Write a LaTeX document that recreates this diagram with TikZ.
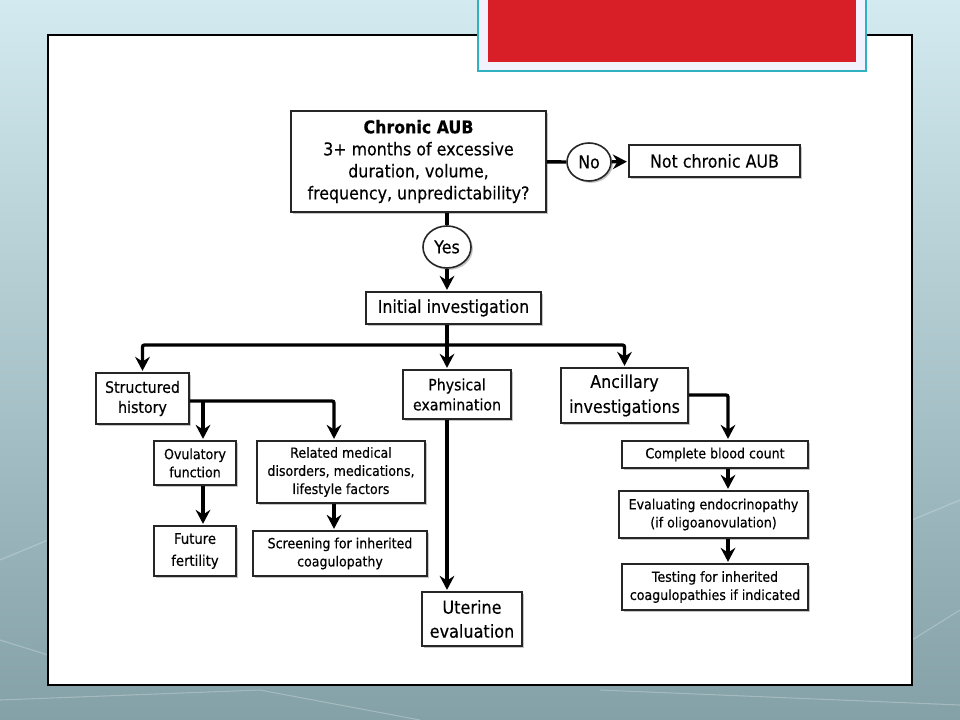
\documentclass[tikz,border=0pt]{standalone}
\usepackage{fontspec}
\setmainfont{DejaVu Sans}[FakeStretch=0.9, FakeBold=0.35]
\usetikzlibrary{arrows.meta,shapes.geometric,shadows,positioning}
\definecolor{slidetop}{HTML}{D2EAF0}
\definecolor{slidebot}{HTML}{84A1A7}
\definecolor{headred}{HTML}{D81F27}
\definecolor{headrim}{HTML}{2FB1C2}
\tikzset{
  box/.style={draw=black!85, line width=1.2pt, fill=white, align=center, inner sep=0pt,
    drop shadow={shadow xshift=1.4pt, shadow yshift=-1.4pt, fill=black!45, opacity=0.5}},
  oval/.style={box, ellipse},
  bigtxt/.style={font=\fontsize{13.2}{16.5}\selectfont},
  midtxt/.style={font=\fontsize{11.8}{15}\selectfont},
  smalltxt/.style={font=\fontsize{10.5}{13.6}\selectfont},
  link/.style={line width=2.5pt},
  flow/.style={link, rounded corners=1.5pt, shorten >=1pt,
    -{Stealth[length=10.5pt, width=11pt, inset=3.5pt]}}
}
\begin{document}
\begin{tikzpicture}[x=0.75pt, y=-0.75pt]
    \useasboundingbox (0,0) rectangle (960,720);
    \shade[top color=slidetop, bottom color=slidebot] (0,0) rectangle (960,720);
    \draw[white, opacity=0.25, line width=0.8pt] (0,700) -- (260,690) -- (420,720)
        (600,690) -- (960,705) (912,520) -- (960,500) (912,640) -- (960,610)
        (0,560) -- (48,540) (0,640) -- (48,655);
    \draw[black, line width=1.4pt, fill=white] (48,35) rectangle (912,685);
    \draw[headrim, line width=2pt, fill=white!95!blue] (478,-4) rectangle (866,71);
    \fill[headred] (488,-4) rectangle (856,62);

    \node[box, bigtxt, minimum width=191.25pt, minimum height=75.75pt] (aub) at (418.5,161.5)
        {\textbf{Chronic AUB}\\3+ months of excessive\\duration, volume,\\frequency, unpredictability?};
    \node[oval, bigtxt, minimum width=33pt, minimum height=28.5pt] (no) at (589,162) {No};
    \node[box, bigtxt, minimum width=128.25pt, minimum height=24pt] (notaub) at (714.5,161) {Not chronic AUB};
    \node[oval, bigtxt, minimum width=36pt, minimum height=31.5pt] (yes) at (447,247) {Yes};
    \node[box, bigtxt, minimum width=131.25pt, minimum height=24pt] (initial) at (453.5,308) {Initial investigation};
    \node[box, midtxt, minimum width=69.75pt, minimum height=38.25pt] (history) at (142.5,398.5) {Structured\\history};
    \node[box, midtxt, minimum width=81pt, minimum height=36.75pt] (physical) at (457,394.5) {Physical\\examination};
    \node[box, bigtxt, font=\fontsize{13.2}{18.7}\selectfont, minimum width=95.25pt, minimum height=41.25pt] (ancillary) at (624.5,395.5) {Ancillary\\investigations};
    \node[box, smalltxt, minimum width=61.5pt, minimum height=33pt] (ovulatory) at (195,463) {Ovulatory\\function};
    \node[box, smalltxt, font=\fontsize{11}{16.5}\selectfont, minimum width=61.5pt, minimum height=37.5pt] (fertility) at (195,551) {Future\\fertility};
    \node[box, smalltxt, minimum width=126pt, minimum height=46.5pt] (related) at (341,472) {Related medical\\disorders, medications,\\lifestyle factors};
    \node[box, smalltxt, minimum width=130.5pt, minimum height=33.75pt] (screening) at (340,553.5) {Screening for inherited\\coagulopathy};
    \node[box, bigtxt, font=\fontsize{13.4}{18}\selectfont, minimum width=75pt, minimum height=40.5pt] (uterine) at (472,619) {Uterine\\evaluation};
    \node[box, smalltxt, minimum width=139.5pt, minimum height=20.25pt] (cbc) at (715,454.5) {Complete blood count};
    \node[box, smalltxt, minimum width=141.75pt, minimum height=35.25pt] (endo) at (713.5,514.5) {Evaluating endocrinopathy\\(if oligoanovulation)};
    \node[box, smalltxt, minimum width=139.5pt, minimum height=34.5pt] (testing) at (715,587) {Testing for inherited\\coagulopathies if indicated};

    \coordinate (split) at (447,345);
    \coordinate (hsplit) at (203,401);
    \coordinate (rel) at (334,401);
    \coordinate (asplit) at (728,395);

    \draw[link] (aub) -- (no);
    \draw[flow] (no) -- (notaub);
    \draw[link] (aub.south -| yes) -- (yes);
    \draw[flow] (yes) -- (yes |- initial.north);
    \draw[link] (initial.south -| split) -- (split);
    \draw[flow] (split) -| (history);
    \draw[flow] (split) -- (physical.north -| split);
    \draw[flow] (split) -| (ancillary);
    \draw[flow] (history.east |- hsplit) -| (related.north -| rel);
    \draw[flow] (hsplit) -- (hsplit |- ovulatory.north);
    \draw[flow] (hsplit |- ovulatory.south) -- (hsplit |- fertility.north);
    \draw[flow] (rel |- related.south) -- (rel |- screening.north);
    \draw[flow] (physical.south -| split) -- (uterine.north -| split);
    \draw[flow] (ancillary.east |- asplit) -| (cbc.north -| asplit);
    \draw[flow] (cbc.south -| asplit) -- (endo.north -| asplit);
    \draw[flow] (endo.south -| asplit) -- (testing.north -| asplit);
\end{tikzpicture}
\end{document}
